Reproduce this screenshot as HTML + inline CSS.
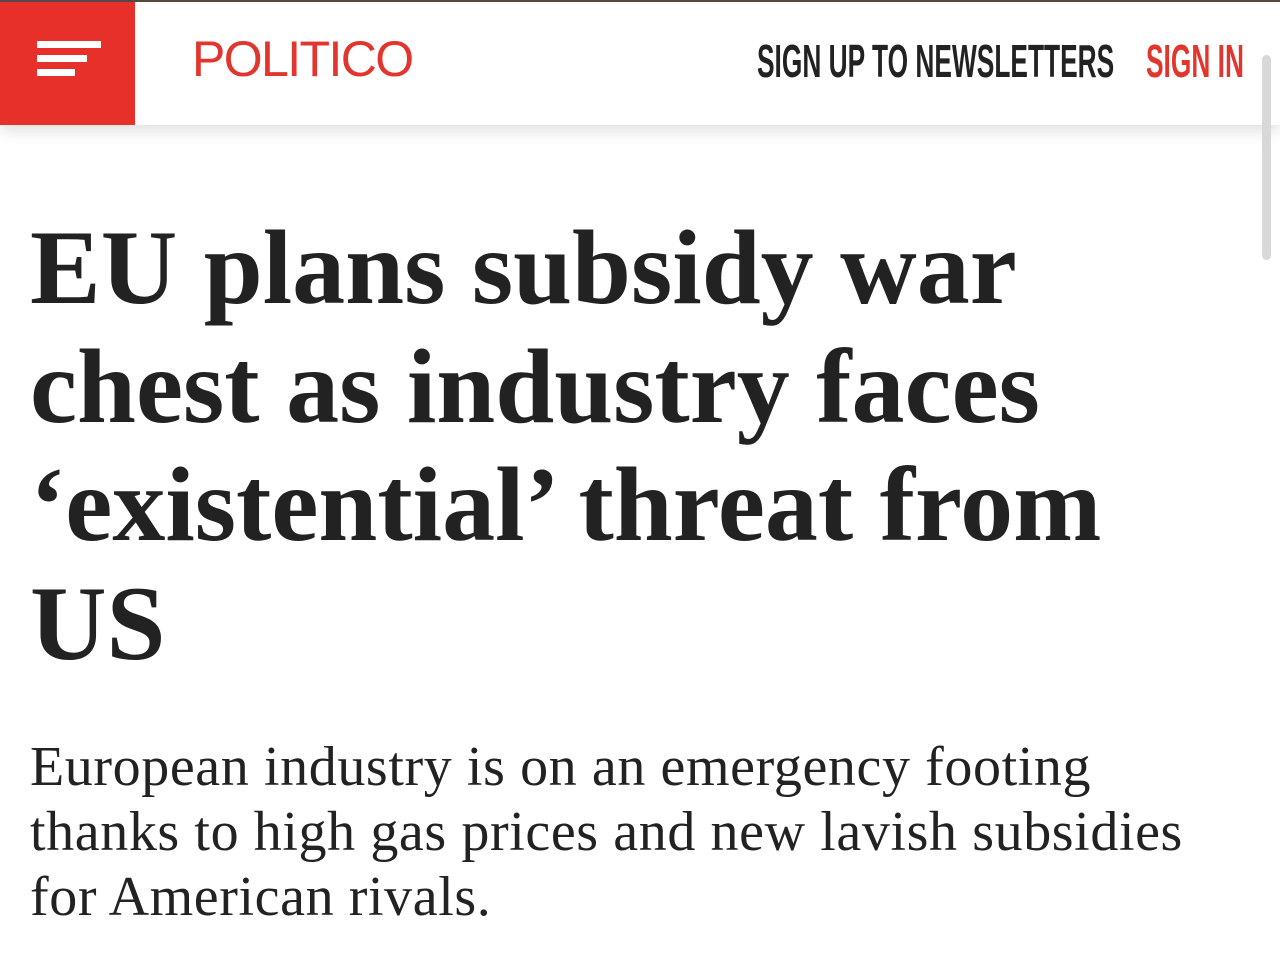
<!DOCTYPE html>
<html><head><style>
body{margin:0;width:1280px;height:961px;background:#fff;overflow:hidden;position:relative;font-family:"Liberation Serif",serif;}
.topline{position:absolute;left:0;top:0;width:1280px;height:2px;background:#5a4a45;}
.hdr{position:absolute;left:0;top:2px;width:1280px;height:123px;background:#fff;box-shadow:0 6px 14px rgba(0,0,0,0.12);}
.menu{position:absolute;left:0;top:0;width:135px;height:123px;background:#e8302a;}
.menu i{position:absolute;left:37px;height:7px;background:#fff;display:block}
.logo{position:absolute;left:192px;top:28px;font-family:"Liberation Sans",sans-serif;font-size:50px;color:#e2352d;letter-spacing:-1.6px;}
.nav{position:absolute;top:32px;font-family:"Liberation Sans",sans-serif;font-weight:bold;font-size:46px;transform:scaleX(0.572);transform-origin:left;white-space:nowrap}
.sb{position:absolute;left:1262px;top:55px;width:9px;height:205px;background:#d8d8d8;border-radius:5px}
h1{position:absolute;left:30px;top:209px;margin:0;font-size:106px;font-weight:bold;line-height:118.5px;color:#222;letter-spacing:0px;width:1240px;white-space:nowrap}
p{position:absolute;left:30px;top:735px;margin:0;font-size:56px;line-height:65px;color:#222;letter-spacing:0.6px;width:1240px;white-space:nowrap}
</style></head><body>
<div class="topline"></div>
<div class="hdr">
<div class="menu"><i style="top:39px;width:64px"></i><i style="top:53px;width:50px"></i><i style="top:67px;width:38px"></i></div>
<div class="logo">POLITICO</div>
<div class="nav" style="left:757px;color:#222">SIGN UP TO NEWSLETTERS</div>
<div class="nav" style="left:1146px;color:#e2352d">SIGN IN</div>
</div>
<div class="sb"></div>
<h1>EU plans subsidy war<br>chest as industry faces<br>‘existential’ threat from<br>US</h1>
<p>European industry is on an emergency footing<br>thanks to high gas prices and new lavish subsidies<br>for American rivals.</p>
</body></html>
